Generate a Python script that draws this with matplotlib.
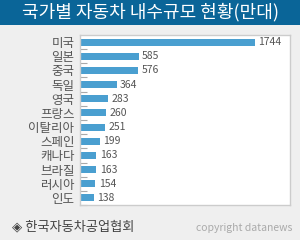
import numpy as np
import matplotlib.pyplot as plt

plt.rcParams['font.family'] = ['Noto Sans CJK KR', 'DejaVu Sans']

# Data
countries = ['미국', '일본', '중국', '독일', '영국', '프랑스', '이탈리아',
             '스페인', '캐나다', '브라질', '러시아', '인도']
values = [1744, 585, 576, 364, 283, 260, 251, 199, 163, 163, 154, 138]

title = '국가별 자동차 내수규모 현황(만대)'
source = '◈ 한국자동차공업협회'
credit = 'copyright datanews'

bg = '#efefef'
banner = '#0a6598'
bar_color = '#4a9fd0'
text_gray = '#555555'

fig = plt.figure(figsize=(3.0, 2.4), dpi=100, facecolor=bg)

# title banner
fig.patches.append(plt.Rectangle((0, 1 - 25/240), 1, 25/240, transform=fig.transFigure,
                                 facecolor=banner, edgecolor='none', zorder=0))
fig.text(0.5, 1 - 12.5/240, title, color='white', fontsize=13, fontweight='medium',
         ha='center', va='center')

ax = fig.add_axes([80/300, 1 - 205/240, 210/300, 170/240])
ax.set_facecolor('white')

y = np.arange(len(countries))
ax.barh(y, values, height=0.5, color=bar_color)
for yi, v in zip(y, values):
    ax.text(v + 35, yi, str(v), va='center', ha='left', fontsize=7.5, color=text_gray)

ax.set_xlim(0, 2093)
ax.set_ylim(len(countries) - 0.5, -0.5)
ax.set_xticks([])
ax.set_yticks(y)
ax.set_yticklabels(countries, fontsize=9, color=text_gray)
ax.tick_params(axis='y', which='major', length=0, pad=4)
ax.set_yticks(np.arange(len(countries)) + 0.5, minor=True)
ax.tick_params(axis='y', which='minor', direction='in', length=5, color='#aaaaaa', width=0.8)

for s in ax.spines.values():
    s.set_color('#cccccc')
    s.set_linewidth(1)

fig.text(12/300, 1 - 227/240, source, fontsize=9.5, color='#444444', ha='left', va='center')
fig.text(292/300, 1 - 228/240, credit, fontsize=7.5, color='#aaaaaa', ha='right', va='center')

fig.savefig('out.png', dpi=100, facecolor=bg)
